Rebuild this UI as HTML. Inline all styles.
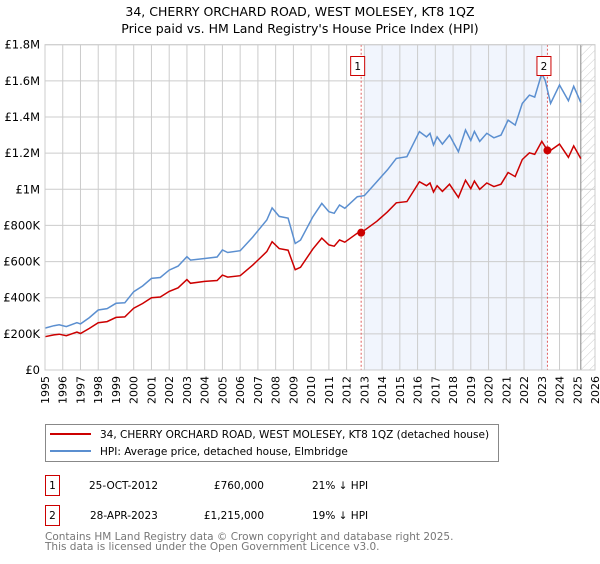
<!DOCTYPE html>
<html><head><meta charset="utf-8"><style>
body{margin:0;background:#fff;font-family:"DejaVu Sans","Liberation Sans",sans-serif;}
svg text{font-family:"DejaVu Sans","Liberation Sans",sans-serif;}
</style></head><body>
<svg id="chart" width="600" height="560" xmlns="http://www.w3.org/2000/svg">
<defs><pattern id="hatch" patternUnits="userSpaceOnUse" width="6" height="6" patternTransform="rotate(45)"><line x1="0" y1="0" x2="0" y2="6" stroke="#ccc" stroke-width="1"/></pattern></defs>
<text x="300" y="16" text-anchor="middle" font-size="12.5">34, CHERRY ORCHARD ROAD, WEST MOLESEY, KT8 1QZ</text>
<text x="300" y="33" text-anchor="middle" font-size="12.5">Price paid vs. HM Land Registry's House Price Index (HPI)</text>
<g id="plot"></g>
<rect x="45.5" y="424.5" width="453" height="37" fill="#fff" stroke="#888"/>
<line x1="50" y1="434" x2="91" y2="434" stroke="#cc0000" stroke-width="2"/>
<text x="100" y="438" font-size="10.5">34, CHERRY ORCHARD ROAD, WEST MOLESEY, KT8 1QZ (detached house)</text>
<line x1="50" y1="451" x2="91" y2="451" stroke="#5b8fd0" stroke-width="2"/>
<text x="100" y="455" font-size="10.5">HPI: Average price, detached house, Elmbridge</text>
<g font-size="10.5">
<rect x="45.5" y="475.5" width="14" height="20" fill="#fff" stroke="#cc0000"/>
<text x="52.5" y="489" text-anchor="middle">1</text>
<text x="89" y="489">25-OCT-2012</text>
<text x="264" y="489" text-anchor="end">£760,000</text>
<text x="312" y="489">21% ↓ HPI</text>
</g>
<g font-size="10.5">
<rect x="45.5" y="505.5" width="14" height="20" fill="#fff" stroke="#cc0000"/>
<text x="52.5" y="519" text-anchor="middle">2</text>
<text x="90" y="519">28-APR-2023</text>
<text x="264" y="519" text-anchor="end">£1,215,000</text>
<text x="312" y="519">19% ↓ HPI</text>
</g>
<text x="45" y="540" font-size="10.5" fill="#777">Contains HM Land Registry data © Crown copyright and database right 2025.</text>
<text x="45" y="550" font-size="10.5" fill="#777">This data is licensed under the Open Government Licence v3.0.</text>
</svg>
<script>
const hpiYears=[1995.0,1995.5,1995.8,1996.2,1996.8,1997.0,1997.5,1998.0,1998.5,1999.0,1999.5,2000.0,2000.5,2001.0,2001.5,2002.0,2002.5,2003.0,2003.2,2004.0,2004.7,2005.0,2005.3,2006.0,2006.7,2007.5,2007.8,2008.2,2008.7,2009.1,2009.4,2010.1,2010.6,2011.0,2011.3,2011.6,2011.9,2012.6,2013.0,2013.7,2014.3,2014.8,2015.4,2016.1,2016.5,2016.7,2016.9,2017.1,2017.4,2017.8,2018.3,2018.7,2019.0,2019.2,2019.5,2019.9,2020.3,2020.7,2021.1,2021.5,2021.9,2022.3,2022.6,2023.0,2023.2,2023.5,2024.0,2024.5,2024.8,2025.2];
const hpiValues=[232,245,250,240,262,255,290,332,340,369,372,433,465,507,512,553,575,627,608,617,625,664,650,660,735,830,897,850,840,700,719,848,922,876,867,913,895,959,965,1042,1107,1171,1180,1319,1290,1310,1245,1290,1250,1300,1208,1328,1270,1320,1265,1310,1285,1300,1383,1355,1475,1521,1510,1641,1600,1475,1577,1490,1570,1480];
const ppYears=[1995.0,1995.5,1995.8,1996.2,1996.8,1997.0,1997.5,1998.0,1998.5,1999.0,1999.5,2000.0,2000.5,2001.0,2001.5,2002.0,2002.5,2003.0,2003.2,2004.0,2004.7,2005.0,2005.3,2006.0,2006.7,2007.5,2007.8,2008.2,2008.7,2009.1,2009.4,2010.1,2010.6,2011.0,2011.3,2011.6,2011.9,2012.6,2012.82,2013.7,2014.3,2014.8,2015.4,2016.1,2016.5,2016.7,2016.9,2017.1,2017.4,2017.8,2018.3,2018.7,2019.0,2019.2,2019.5,2019.9,2020.3,2020.7,2021.1,2021.5,2021.9,2022.3,2022.6,2023.0,2023.32,2023.5,2024.0,2024.5,2024.8,2025.2];
const ppValues=[184,194,198,190,210,202,230,262,268,291,294,342,368,400,404,435,455,500,480,490,495,525,514,522,580,655,710,672,663,555,568,670,730,692,685,720,707,757,760,823,875,925,932,1042,1020,1035,985,1020,988,1028,955,1050,1003,1045,1000,1035,1015,1028,1093,1070,1165,1202,1193,1265,1215,1215,1250,1177,1240,1170];
const saleYears=[2012.82,2023.32];
const saleValues=[760,1215];
const yTicks=[0,200,400,600,800,1000,1200,1400,1600,1800];
const yTickLabels=["£0","£200K","£400K","£600K","£800K","£1M","£1.2M","£1.4M","£1.6M","£1.8M"];
const xTicks=[1995,1996,1997,1998,1999,2000,2001,2002,2003,2004,2005,2006,2007,2008,2009,2010,2011,2012,2013,2014,2015,2016,2017,2018,2019,2020,2021,2022,2023,2024,2025,2026];

const X0=45,X1=595,Y0=370,Y1=44.7;
const xs=y=>X0+(y-1995)/31*(X1-X0);
const ys=v=>Y0-v/1800*(Y0-Y1);
const NS="http://www.w3.org/2000/svg";
const g=document.getElementById('plot');
function mk(t,a,p){const e=document.createElementNS(NS,t);for(const k in a)e.setAttribute(k,a[k]);(p||g).appendChild(e);return e;}

const shade=mk('rect',{x:xs(2013.0),y:Y1,width:xs(saleYears[1])-xs(2013.0),height:Y0-Y1,fill:'#eef3fc',opacity:0.8});


const hatch=mk('rect',{x:xs(2025.2),y:Y1,width:X1-xs(2025.2),height:Y0-Y1,fill:'url(#hatch)'});



xTicks.forEach(t=>{
 const l=mk('line',{x1:xs(t),x2:xs(t),y1:Y1,y2:Y0,stroke:'#ccc','stroke-width':1});
 
 
 const tx=mk('text',{x:0,y:0,'font-size':11,'text-anchor':'end',transform:`translate(${xs(t)+4},${Y0+6}) rotate(-90)`});
 tx.textContent=t;
 
 
});
yTicks.forEach((t,i)=>{
 const l=mk('line',{x1:X0,x2:X1,y1:ys(t),y2:ys(t),stroke:'#ccc','stroke-width':1});
 
 
 const tx=mk('text',{x:X0-5,y:ys(t)+4,'font-size':11.5,'text-anchor':'end'});
 tx.textContent=yTickLabels[i];
 
 
});
const vl=mk('line',{x1:xs(2025.2),x2:xs(2025.2),y1:Y1,y2:Y0,stroke:'#888','stroke-width':1});



saleYears.forEach((yr,i)=>{
 const d=mk('line',{x1:xs(yr),x2:xs(yr),y1:Y1,y2:Y0,stroke:'#e06060','stroke-width':1,'stroke-dasharray':'2,2'});
 
 
});

function path(xa,va,col,name){
 const p=mk('path',{d:xa.map((x,i)=>(i?'L':'M')+xs(x).toFixed(1)+','+ys(va[i]).toFixed(1)).join(''),fill:'none',stroke:col,'stroke-width':1.5});
 
 
}
path(hpiYears,hpiValues,'#5b8fd0','hpi-line');
path(ppYears,ppValues,'#cc0000','price-paid-line');

saleYears.forEach((yr,i)=>{
 const c=mk('circle',{cx:xs(yr),cy:ys(saleValues[i]),r:4,fill:'#cc0000'});
 
 
 const b=mk('rect',{x:xs(yr)-10.5,y:56.5,width:14,height:19,fill:'#fff',stroke:'#cc0000'});
 
 
 const t=mk('text',{x:xs(yr)-3.5,y:70,'font-size':10.5,'text-anchor':'middle'});
 t.textContent=String(i+1);
 
 
});
const ax=mk('rect',{x:X0,y:Y1,width:X1-X0,height:Y0-Y1,fill:'none',stroke:'#ccc'});


</script>
</body></html>
